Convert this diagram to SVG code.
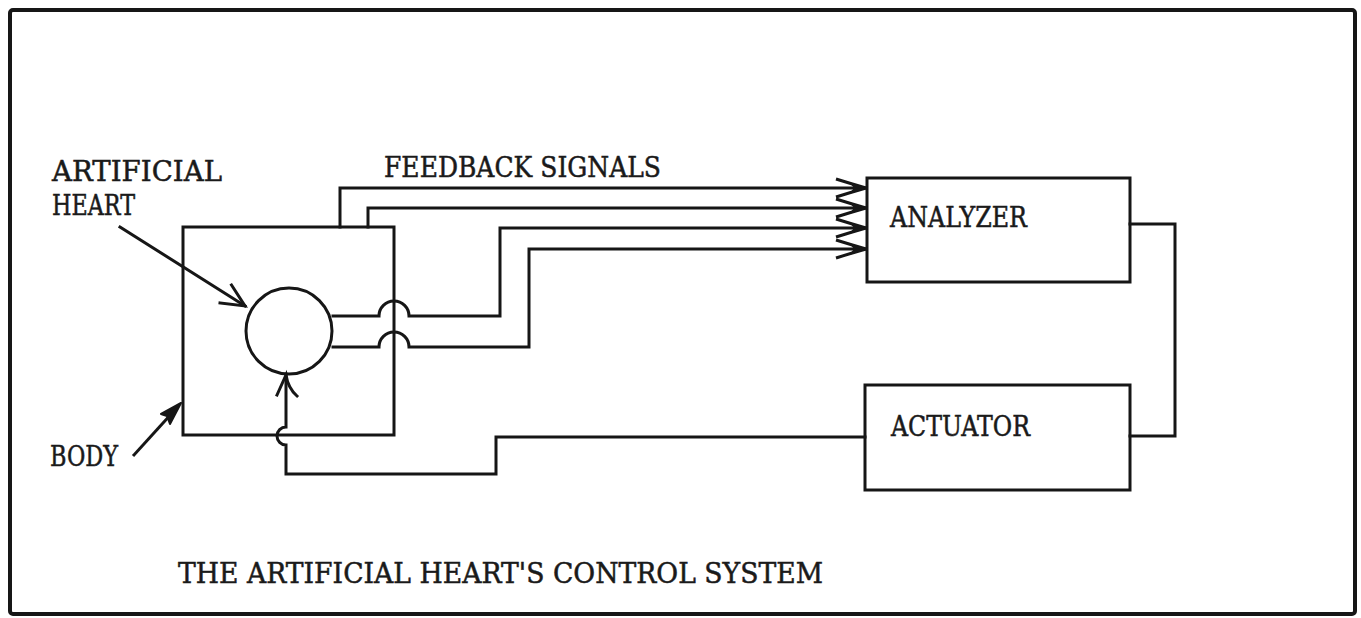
<svg xmlns="http://www.w3.org/2000/svg" width="1361" height="618" viewBox="0 0 1361 618">
<defs>
<style>
.ln{fill:none;stroke:#161616;stroke-width:3;stroke-linejoin:miter;stroke-linecap:square}
.box{fill:none;stroke:#161616;stroke-width:3}
.tx{font-family:"DejaVu Serif","Liberation Serif",serif;font-size:27px;fill:#1a1a1a;stroke:#1a1a1a;stroke-width:0.5}
</style>
<marker id="fb" viewBox="-34 -12 36 24" refX="0" refY="0" markerWidth="36" markerHeight="24" markerUnits="userSpaceOnUse" orient="auto">
<path d="M-30,-9 Q-14,-4 0,0 Q-14,4 -30,9" fill="none" stroke="#161616" stroke-width="3"/>
<path d="M1,0 L-17,-6 L-12,0 L-17,6 Z" fill="#161616"/>
</marker>
</defs>
<rect x="10" y="10" width="1345" height="604" rx="3" fill="none" stroke="#161616" stroke-width="4"/>

<g id="body">
<rect class="box" x="183" y="227" width="211" height="208"/>
</g>
<g id="heart">
<circle class="box" cx="289" cy="331" r="43"/>
</g>
<g id="analyzer">
<rect class="box" x="867" y="178" width="263" height="104"/>
<text class="tx" x="890" y="227" textLength="137" lengthAdjust="spacingAndGlyphs">ANALYZER</text>
</g>
<g id="actuator">
<rect class="box" x="865" y="385" width="265" height="105"/>
<text class="tx" x="891" y="436" textLength="139" lengthAdjust="spacingAndGlyphs">ACTUATOR</text>
</g>

<g id="labels">
<text class="tx" x="52" y="181" textLength="170" lengthAdjust="spacingAndGlyphs">ARTIFICIAL</text>
<text class="tx" x="52" y="215" textLength="83" lengthAdjust="spacingAndGlyphs">HEART</text>
<text class="tx" x="384" y="177" textLength="277" lengthAdjust="spacingAndGlyphs">FEEDBACK SIGNALS</text>
<text class="tx" x="50" y="466" textLength="68" lengthAdjust="spacingAndGlyphs">BODY</text>
<text class="tx" x="178" y="583" textLength="645" lengthAdjust="spacingAndGlyphs">THE ARTIFICIAL HEART'S CONTROL SYSTEM</text>
</g>

<g id="connectors">
<!-- feedback lines -->
<path class="ln" d="M340,227 V188 H866" marker-end="url(#fb)"/>
<path class="ln" d="M368,227 V208 H866" marker-end="url(#fb)"/>
<path class="ln" d="M333,316 H379 A15,15 0 0 1 409,316 H500 V228 H866" marker-end="url(#fb)"/>
<path class="ln" d="M333,347 H379 A15,15 0 0 1 409,347 H529 V249 H866" marker-end="url(#fb)"/>
<!-- analyzer to actuator -->
<path class="ln" d="M1130,224 H1175 V436 H1130"/>
<!-- actuator back to heart -->
<path class="ln" d="M865,437 H496 V474 H286 V445 A9,9 0 0 1 286,427 V376"/>
<path class="ln" d="M277,395 L286,375 Q288,388 297,396" stroke-linecap="round"/>
<!-- artificial heart pointer -->
<path class="ln" d="M120,227 L245,306" stroke-linecap="round"/>
<path class="ln" d="M220,303 L245,306 L231.5,285" stroke-linecap="round"/>
<!-- body pointer -->
<path class="ln" d="M134,455 L172,413" stroke-linecap="round"/>
<path d="M181,403 L161,414 L167,416 L170,424 Z" fill="#161616" stroke="#161616" stroke-width="2" stroke-linejoin="round"/>
</g>
</svg>
